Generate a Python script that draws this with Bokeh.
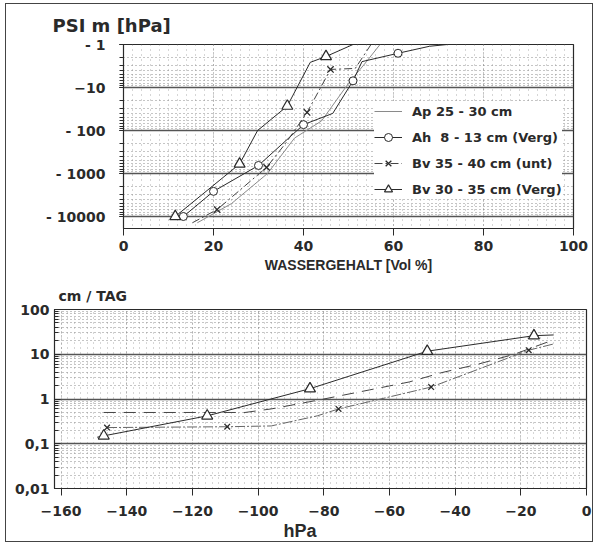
from bokeh.plotting import figure
from bokeh.layouts import column
from bokeh.models import (Range1d, CustomJSTickFormatter, Legend, LegendItem, Title, FixedTicker)
from bokeh.embed import file_html
from bokeh.resources import INLINE

# ---------------- data: top chart (pF curves) ----------------
ap_x = [16.4, 24, 32, 38, 44, 50, 54, 57]
ap_psi = [14000, 5000, 1000, 150, 60, 8, 2.5, 1]

ah_line_x = [13.3, 20, 30, 40, 46.5, 51, 53, 61, 68, 72]
ah_line_psi = [10000, 2600, 650, 73, 40, 7, 2.5, 1.6, 1.1, 1]
ah_pts_x = [13.3, 20, 30, 40, 51, 61]
ah_pts_psi = [10000, 2600, 650, 73, 7, 1.6]

bvu_line_x = [15.3, 20.8, 31.8, 36, 40.8, 46, 51.5, 55]
bvu_line_psi = [14000, 6900, 720, 200, 38, 3.8, 3.6, 1]
bvu_pts_x = [20.8, 31.8, 40.8, 46]
bvu_pts_psi = [6900, 720, 38, 3.8]

bvv_line_x = [11.5, 25.8, 29.8, 36.4, 41.5, 45, 51]
bvv_line_psi = [10000, 600, 100, 27, 2.6, 1.9, 1]
bvv_pts_x = [11.5, 25.8, 36.4, 45]
bvv_pts_psi = [10000, 600, 27, 1.9]

legend_labels = ["Ap 25 - 30 cm", "Ah \u00a08 - 13 cm (Verg)",
                 "Bv 35 - 40 cm (unt)", "Bv 30 - 35 cm (Verg)"]

# ---------------- data: bottom chart (conductivity) ----------------
k_dash_x = [-147, -104, -96, -85, -80, -66, -54, -44, -33, -22, -10]
k_dash_y = [0.5, 0.5, 0.6, 0.85, 1.0, 1.6, 2.4, 3.9, 6.0, 10, 21]

k_x_line_x = [-146, -109.4, -96, -82, -75.5, -47.3, -17.6, -10]
k_x_line_y = [0.23, 0.24, 0.25, 0.42, 0.6, 1.85, 12.3, 17]
k_x_pts_x = [-146, -109.4, -75.5, -47.3, -17.6]
k_x_pts_y = [0.23, 0.24, 0.6, 1.85, 12.3]

k_tri_line_x = [-149, -147, -115.5, -84.2, -48.5, -16, -10]
k_tri_line_y = [0.14, 0.15, 0.42, 1.7, 11.7, 26, 27]
k_tri_pts_x = [-147, -115.5, -84.2, -48.5, -16]
k_tri_pts_y = [0.15, 0.42, 1.7, 11.7, 26]

FONT = "Liberation Sans"
WIDE = "DejaVu Sans"
INK = "#2a2a2a"


def style(p):
    p.background_fill_color = "white"
    p.border_fill_color = "white"
    p.outline_line_color = INK
    p.outline_line_width = 1.2
    for ax in (p.xaxis[0], p.yaxis[0]):
        ax.axis_line_color = INK
        ax.major_tick_line_color = INK
        ax.minor_tick_line_color = INK
        ax.major_label_text_font = WIDE
        ax.major_label_text_font_size = "14px"
        ax.major_label_text_font_style = "bold"
        ax.major_label_text_color = INK
        ax.axis_label_text_font = FONT
        ax.axis_label_text_font_style = "bold"
        ax.axis_label_text_color = INK
    p.xaxis.major_tick_in = 0
    p.xaxis.major_tick_out = 7
    p.xaxis.minor_tick_in = 0
    p.xaxis.minor_tick_out = 0
    p.ygrid.grid_line_color = "#555555"
    p.ygrid.grid_line_width = 1.6
    p.ygrid.minor_grid_line_color = "#8a8a8a"
    p.ygrid.minor_grid_line_dash = "1 3"
    p.ygrid.minor_grid_line_width = 1
    p.xgrid.grid_line_color = "#8a8a8a"
    p.xgrid.grid_line_dash = "1 3"
    p.xgrid.minor_grid_line_color = "#8a8a8a"
    p.xgrid.minor_grid_line_dash = "1 4"
    p.xgrid.minor_grid_line_alpha = 0.7


# ---------------- top figure ----------------
p1 = figure(width=586, height=275, output_backend="svg", toolbar_location=None,
            x_range=Range1d(0, 100), y_range=Range1d(19000, 1), y_axis_type="log",
            min_border_left=117, min_border_right=19, min_border_top=40, min_border_bottom=51,
            frame_align=False)
style(p1)
p1.yaxis.major_tick_in = 0
p1.yaxis.major_tick_out = 4
p1.yaxis.minor_tick_in = 0
p1.yaxis.minor_tick_out = 4
p1.yaxis.major_label_standoff = 14
p1.xaxis.ticker = FixedTicker(ticks=[0, 20, 40, 60, 80, 100],
                              minor_ticks=list(range(0, 101, 2)))
p1.yaxis.formatter = CustomJSTickFormatter(
    code="if (tick == 10) { return '\u221210'; } return '- ' + tick.toFixed(0);")
p1.xaxis.axis_label = "WASSERGEHALT [Vol %]"
p1.xaxis.axis_label_text_font_size = "14px"
p1.xaxis.axis_label_standoff = 3
p1.xaxis.major_label_standoff = 5

t1 = Title(text="PSI m [hPa]", align="left", offset=-71, standoff=17, text_font=WIDE,
           text_font_size="18px", text_font_style="bold", text_color=INK)
p1.add_layout(t1, "above")

r_ap = p1.line(ap_x, ap_psi, line_color="#8a8a8a", line_width=1)
r_ah_l = p1.line(ah_line_x, ah_line_psi, line_color=INK, line_width=1)
r_ah_m = p1.scatter(ah_pts_x, ah_pts_psi, marker="circle", size=8, fill_color="white",
                    line_color=INK, line_width=1)
r_bu_l = p1.line(bvu_line_x, bvu_line_psi, line_color="#444444", line_width=1, line_dash="8 3 2 3")
r_bu_m = p1.scatter(bvu_pts_x, bvu_pts_psi, marker="x", size=9, line_color=INK, line_width=1.3)
r_bv_l = p1.line(bvv_line_x, bvv_line_psi, line_color=INK, line_width=1)
r_bv_m = p1.scatter(bvv_pts_x, bvv_pts_psi, marker="triangle", size=11, fill_color="white",
                    line_color=INK, line_width=1.2)

legend = Legend(items=[
    LegendItem(label=legend_labels[0], renderers=[r_ap]),
    LegendItem(label=legend_labels[1], renderers=[r_ah_l, r_ah_m]),
    LegendItem(label=legend_labels[2], renderers=[r_bu_l, r_bu_m]),
    LegendItem(label=legend_labels[3], renderers=[r_bv_l, r_bv_m]),
], location=(251, 29), border_line_color=None, background_fill_color="white",
    background_fill_alpha=1, label_text_font=WIDE, label_text_font_size="13px",
    label_text_font_style="bold", label_text_color=INK, glyph_width=28, glyph_height=20,
    spacing=6, label_standoff=10, padding=6, margin=0)
p1.add_layout(legend, "center")

# ---------------- bottom figure ----------------
p2 = figure(width=586, height=262, output_backend="svg", toolbar_location=None,
            x_range=Range1d(-162, 0), y_range=Range1d(0.01, 100), y_axis_type="log",
            min_border_left=48, min_border_right=6, min_border_top=28, min_border_bottom=53,
            frame_align=False)
style(p2)
p2.yaxis.major_tick_in = 6
p2.yaxis.major_tick_out = 0
p2.yaxis.minor_tick_in = 4
p2.yaxis.minor_tick_out = 0
p2.yaxis.major_label_standoff = 5
p2.xaxis.ticker = FixedTicker(ticks=list(range(-160, 1, 20)),
                              minor_ticks=list(range(-162, 1, 2)))
p2.yaxis.formatter = CustomJSTickFormatter(
    code="if (tick >= 1) { return tick.toFixed(0); } return tick.toString().replace('.', ',');")
p2.xaxis.major_label_standoff = 10

t2 = Title(text="cm / TAG", align="left", offset=4, standoff=12, text_font=WIDE,
           text_font_size="14px", text_font_style="bold", text_color=INK)
p2.add_layout(t2, "above")
t3 = Title(text="hPa", align="left", offset=229, standoff=0, text_font=FONT,
           text_font_size="18px", text_font_style="bold", text_color=INK)
p2.add_layout(t3, "below")

p2.line(k_dash_x, k_dash_y, line_color="#444444", line_width=1, line_dash="12 8")
p2.line(k_x_line_x, k_x_line_y, line_color="#666666", line_width=1, line_dash="10 2 2 2")
p2.scatter(k_x_pts_x, k_x_pts_y, marker="x", size=8, line_color=INK, line_width=1.3)
p2.line(k_tri_line_x, k_tri_line_y, line_color=INK, line_width=1)
p2.scatter(k_tri_pts_x, k_tri_pts_y, marker="triangle", size=11, fill_color="white",
           line_color=INK, line_width=1.2)

layout = column(p1, p2, spacing=0,
                styles={"border": "1px solid #444", "margin-left": "5px", "margin-top": "3px"})

open("out.html", "w").write(file_html(layout, INLINE))
